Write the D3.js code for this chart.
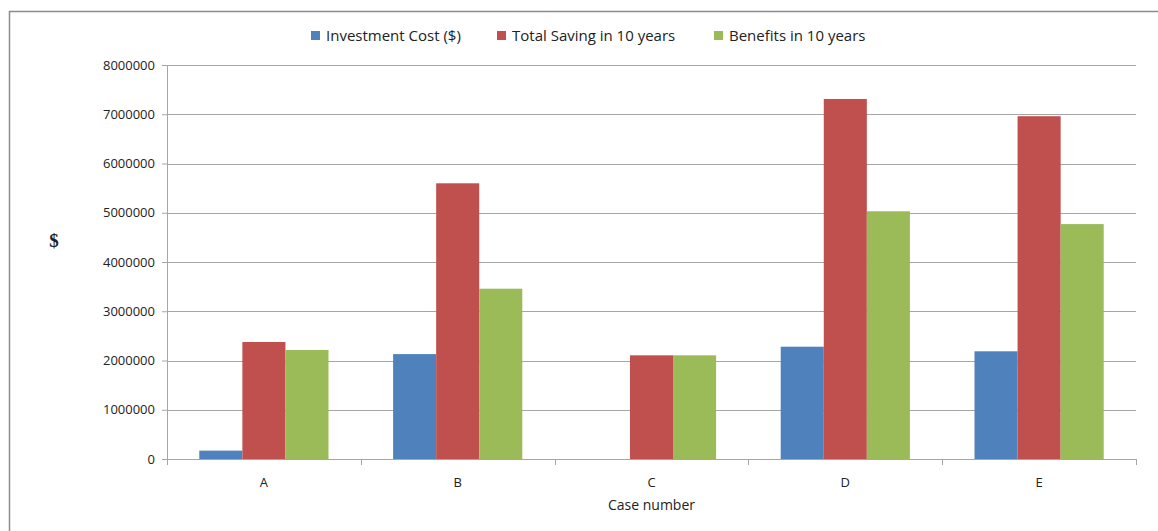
<!DOCTYPE html>
<html>
<head>
<meta charset="utf-8">
<script src="https://cdn.jsdelivr.net/npm/d3@7"></script>
<style>
  body { margin: 0; background: #fff; }
  text { font-family: "Open Sans", "Noto Sans", sans-serif; fill: #222; }
</style>
</head>
<body>
<div id="wrapper"></div>
<script>
// data
const cases = ["A", "B", "C", "D", "E"]
const seriesNames = ["Investment Cost ($)", "Total Saving in 10 years", "Benefits in 10 years"]
const seriesColors = ["#4f81bd", "#c0504d", "#9bbb59"]
const investment = [170000, 2130000, 0, 2280000, 2187000]
const saving = [2376000, 5598000, 2105000, 7310000, 6960000]
const benefits = [2213000, 3458000, 2105000, 5030000, 4770000]
const yTicks = [0, 1000000, 2000000, 3000000, 4000000, 5000000, 6000000, 7000000, 8000000]

const rows = cases.map((c, i) => ({
  case: c,
  values: [investment[i], saving[i], benefits[i]]
}))

// dimensions
const width = 1158, height = 531
const margin = {top: 65, right: 22, bottom: 72, left: 167}
const boundedWidth = width - margin.left - margin.right
const boundedHeight = height - margin.top - margin.bottom

const svg = d3.select("#wrapper").append("svg")
    .attr("width", width)
    .attr("height", height)

// outer frame
svg.append("path")
    .attr("d", `M9.5,${height} V11.5 H${width}`)
    .attr("fill", "none")
    .attr("stroke", "#8c8c8c")
    .attr("stroke-width", 1.5)

const bounds = svg.append("g")
    .attr("transform", `translate(${margin.left},${margin.top})`)

// scales
const x0 = d3.scaleBand().domain(cases).range([0, boundedWidth])
const barW = x0.bandwidth() / 4.5
const x1 = d3.scaleBand().domain(d3.range(3))
    .range([barW * 0.75, barW * 3.75])
const y = d3.scaleLinear().domain([0, 8000000]).range([boundedHeight, 0])

// gridlines
bounds.append("g")
  .selectAll("line")
  .data(yTicks.slice(1))
  .join("line")
    .attr("x1", 0).attr("x2", boundedWidth)
    .attr("y1", d => Math.round(y(d)) + 0.5)
    .attr("y2", d => Math.round(y(d)) + 0.5)
    .attr("stroke", "#a6a6a6")

// bars
const groups = bounds.append("g")
  .selectAll("g")
  .data(rows)
  .join("g")
    .attr("transform", d => `translate(${x0(d.case)},0)`)

groups.selectAll("rect")
  .data(d => d.values)
  .join("rect")
    .attr("x", (d, i) => x1(i))
    .attr("width", x1.bandwidth())
    .attr("y", d => y(d))
    .attr("height", d => boundedHeight - y(d))
    .attr("fill", (d, i) => seriesColors[i])

// y axis
const yAxis = bounds.append("g")
    .call(d3.axisLeft(y).tickValues(yTicks).tickSize(5).tickPadding(7).tickFormat(d3.format("d")))
yAxis.select(".domain").attr("stroke", "#a6a6a6")
yAxis.selectAll(".tick line").attr("stroke", "#a6a6a6")
yAxis.selectAll("text").style("font-size", "13px").attr("fill", "#222")

// x axis: ticks at the category boundaries
const xAxis = bounds.append("g")
    .attr("transform", `translate(0,${boundedHeight})`)
xAxis.append("line")
    .attr("x1", 0).attr("x2", boundedWidth)
    .attr("y1", 0.5).attr("y2", 0.5)
    .attr("stroke", "#a6a6a6")
xAxis.selectAll(".sep")
  .data(cases.map(c => x0(c)).concat([boundedWidth]))
  .join("line")
    .attr("class", "sep")
    .attr("x1", d => Math.round(d) + 0.5).attr("x2", d => Math.round(d) + 0.5)
    .attr("y1", 0).attr("y2", 6)
    .attr("stroke", "#a6a6a6")
xAxis.selectAll("text")
  .data(cases)
  .join("text")
    .attr("x", d => x0(d) + x0.bandwidth() / 2)
    .attr("y", 28)
    .attr("text-anchor", "middle")
    .style("font-size", "13px")
    .text(d => d)

// axis titles
svg.append("text")
    .attr("x", margin.left + boundedWidth / 2)
    .attr("y", 510)
    .attr("text-anchor", "middle")
    .style("font-size", "14px")
    .text("Case number")

svg.append("text")
    .attr("x", 54)
    .attr("y", 247)
    .attr("text-anchor", "middle")
    .style("font-family", "'Liberation Serif', serif")
    .style("font-weight", "bold")
    .style("font-size", "19px")
    .text("$")

// legend
const legendX = [311, 497, 714]
const legend = svg.append("g")
  .selectAll("g")
  .data(seriesNames)
  .join("g")
    .attr("transform", (d, i) => `translate(${legendX[i]},35)`)
legend.append("rect")
    .attr("x", 0).attr("y", -4)
    .attr("width", 9).attr("height", 9)
    .attr("fill", (d, i) => seriesColors[i])
legend.append("text")
    .attr("x", 15)
    .attr("y", 5.5)
    .style("font-size", "15px")
    .text(d => d)
</script>
</body>
</html>
